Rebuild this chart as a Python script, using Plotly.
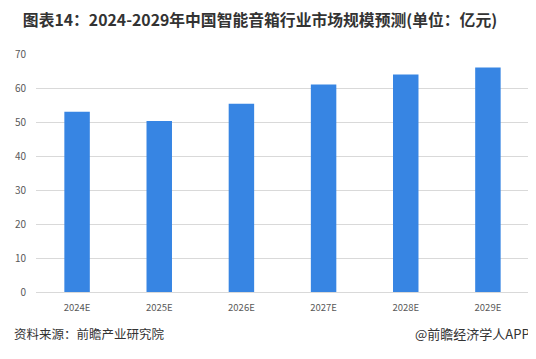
import plotly.graph_objects as go

categories = ["2024E", "2025E", "2026E", "2027E", "2028E", "2029E"]
values = [53.0, 50.3, 55.4, 61.0, 64.0, 66.0]
y_ticks = [0, 10, 20, 30, 40, 50, 60, 70]

# page body has an 8px margin, so the figure is sized to fit inside 536x359
W, H = 528, 351
L, R, T, B = 21, 7, 46, 67
PW = W - L - R
PH = H - T - B

fig = go.Figure()
fig.add_trace(go.Bar(
    x=categories, y=values,
    marker=dict(color="#3785E3", line=dict(width=0)),
    hoverinfo="x+y",
))

fig.update_layout(
    width=W, height=H,
    margin=dict(l=L, r=R, t=T, b=B),
    paper_bgcolor="white", plot_bgcolor="white",
    bargap=0.69,
    showlegend=False,
    font=dict(family="Noto Sans CJK SC, sans-serif", color="#595959"),
    title=dict(
        text="图表14：2024-2029年中国智能音箱行业市场规模预测(单位：亿元)",
        xref="container", x=252 / W, xanchor="center", y=1 - 12 / H, yanchor="middle",
        font=dict(size=15.8, color="#333333", family="Noto Sans CJK SC, sans-serif", weight="bold"),
    ),
    xaxis=dict(
        type="category", showgrid=False, zeroline=False,
        showline=False, ticks="",
        tickfont=dict(size=9.5, color="#595959"),
        ticklabelstandoff=8,
    ),
    yaxis=dict(
        range=[0, 70], tickvals=y_ticks,
        showgrid=True, gridcolor="#D9D9D9", gridwidth=1,
        zeroline=True, zerolinecolor="#D9D9D9", zerolinewidth=1,
        showline=False, ticks="",
        tickfont=dict(size=10, color="#595959"),
        ticklabelstandoff=9,
    ),
    annotations=[
        dict(text="资料来源：前瞻产业研究院", xref="paper", yref="paper",
             x=(-L - 3) / PW, y=-41 / PH, xanchor="left", yanchor="middle", showarrow=False,
             font=dict(size=12.5, color="#333333")),
        dict(text="@前瞻经济学人APP", xref="paper", yref="paper",
             x=(524 - L) / PW, y=-41 / PH, xanchor="right", yanchor="middle", showarrow=False,
             font=dict(size=13, color="#333333")),
    ],
)

fig.write_html("out.html")
